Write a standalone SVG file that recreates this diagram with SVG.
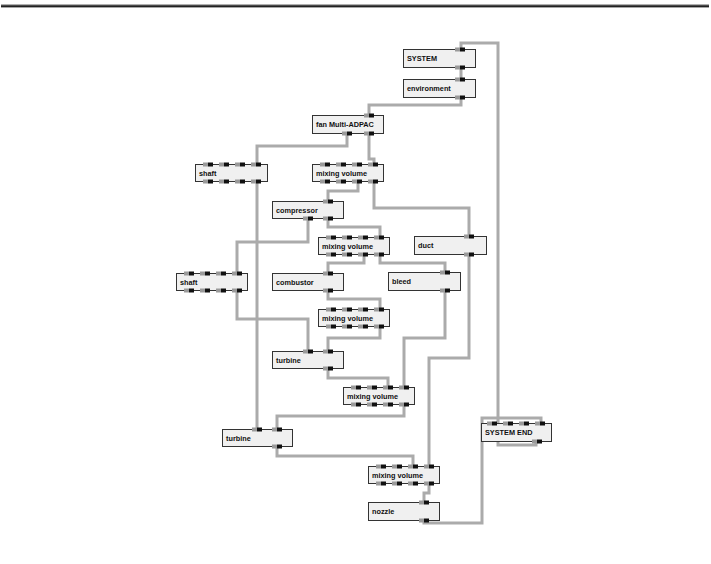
<svg xmlns="http://www.w3.org/2000/svg" xmlns:xlink="http://www.w3.org/1999/xlink" width="711" height="564" viewBox="0 0 711 564">
<style>
.box{fill:#f0f0f0;stroke:#333;stroke-width:1}
.lbl{font-family:"Liberation Sans",Arial,sans-serif;font-size:7.3px;font-weight:bold;fill:#111}
.c{fill:none;stroke:#ababab;stroke-width:3}
</style>
<defs>
<g id="p"><rect x="-5" y="-2" width="5" height="4" fill="#9a9a9a"/><rect x="0" y="-2" width="5" height="4" fill="#111"/></g>
</defs>
<rect width="711" height="564" fill="#fff"/>
<rect x="1" y="4" width="708" height="1.2" fill="#b0b0b0"/>
<rect x="1" y="5.2" width="708" height="2.2" fill="#222"/>
<g id="connectors">
<path class="c" d="M461,49 V43 H498 V445 H536 V441"/>
<path class="c" d="M461,67 V79"/>
<path class="c" d="M461,97 V105 H369 V115"/>
<path class="c" d="M347,133 V146 H257 V164"/>
<path class="c" d="M369,133 V159 H374 V164"/>
<path class="c" d="M257,181 V429"/>
<path class="c" d="M358,181 V191 H328 V201"/>
<path class="c" d="M374,181 V208 H469 V236"/>
<path class="c" d="M308,218 V242 H237 V273"/>
<path class="c" d="M328,218 V227 H380 V237"/>
<path class="c" d="M364,254 V263 H328 V273"/>
<path class="c" d="M380,254 V263 H445 V272"/>
<path class="c" d="M469,254 V358 H429 V466"/>
<path class="c" d="M328,290 V299 H380 V309"/>
<path class="c" d="M237,290 V319 H308 V351"/>
<path class="c" d="M380,326 V338 H328 V351"/>
<path class="c" d="M445,290 V338 H404 V387"/>
<path class="c" d="M328,368 V378 H388 V387"/>
<path class="c" d="M404,404 V416 H277 V429"/>
<path class="c" d="M277,446 V456 H413 V466"/>
<path class="c" d="M429,483 V493 H424 V502"/>
<path class="c" d="M424,520 V523 H482 V418 H541 V423"/>
</g>
<g id="n-system"><rect class="box" x="403.5" y="49.5" width="72" height="18"/><text class="lbl" x="407" y="61">SYSTEM</text><use xlink:href="#p" x="460" y="49.5"/><use xlink:href="#p" x="460" y="67.5"/></g>
<g id="n-environment"><rect class="box" x="403.5" y="79.5" width="72" height="18"/><text class="lbl" x="407" y="91">environment</text><use xlink:href="#p" x="460" y="79.5"/><use xlink:href="#p" x="460" y="97.5"/></g>
<g id="n-fan"><rect class="box" x="312.5" y="115.5" width="71" height="18"/><text class="lbl" x="316" y="127">fan Multi-ADPAC</text><use xlink:href="#p" x="369" y="115.5"/><use xlink:href="#p" x="347" y="133.5"/><use xlink:href="#p" x="369" y="133.5"/></g>
<g id="n-shaft1"><rect class="box" x="195.5" y="164.5" width="72" height="17"/><text class="lbl" x="199" y="176">shaft</text><use xlink:href="#p" x="208" y="164.5"/><use xlink:href="#p" x="224" y="164.5"/><use xlink:href="#p" x="240" y="164.5"/><use xlink:href="#p" x="256" y="164.5"/><use xlink:href="#p" x="208" y="181.5"/><use xlink:href="#p" x="224" y="181.5"/><use xlink:href="#p" x="240" y="181.5"/><use xlink:href="#p" x="256" y="181.5"/></g>
<g id="n-mv1"><rect class="box" x="312.5" y="164.5" width="71" height="17"/><text class="lbl" x="316" y="176">mixing volume</text><use xlink:href="#p" x="325" y="164.5"/><use xlink:href="#p" x="341" y="164.5"/><use xlink:href="#p" x="357" y="164.5"/><use xlink:href="#p" x="373" y="164.5"/><use xlink:href="#p" x="325" y="181.5"/><use xlink:href="#p" x="341" y="181.5"/><use xlink:href="#p" x="357" y="181.5"/><use xlink:href="#p" x="373" y="181.5"/></g>
<g id="n-compressor"><rect class="box" x="272.5" y="201.5" width="71" height="17"/><text class="lbl" x="276" y="213">compressor</text><use xlink:href="#p" x="328" y="201.5"/><use xlink:href="#p" x="308" y="218.5"/><use xlink:href="#p" x="328" y="218.5"/></g>
<g id="n-mv2"><rect class="box" x="318.5" y="237.5" width="71" height="17"/><text class="lbl" x="322" y="249">mixing volume</text><use xlink:href="#p" x="331" y="237.5"/><use xlink:href="#p" x="347" y="237.5"/><use xlink:href="#p" x="363" y="237.5"/><use xlink:href="#p" x="379" y="237.5"/><use xlink:href="#p" x="331" y="254.5"/><use xlink:href="#p" x="347" y="254.5"/><use xlink:href="#p" x="363" y="254.5"/><use xlink:href="#p" x="379" y="254.5"/></g>
<g id="n-duct"><rect class="box" x="414.5" y="236.5" width="72" height="18"/><text class="lbl" x="418" y="248">duct</text><use xlink:href="#p" x="469" y="236.5"/><use xlink:href="#p" x="469" y="254.5"/></g>
<g id="n-shaft2"><rect class="box" x="176.5" y="273.5" width="71" height="17"/><text class="lbl" x="180" y="285">shaft</text><use xlink:href="#p" x="189" y="273.5"/><use xlink:href="#p" x="205" y="273.5"/><use xlink:href="#p" x="221" y="273.5"/><use xlink:href="#p" x="237" y="273.5"/><use xlink:href="#p" x="189" y="290.5"/><use xlink:href="#p" x="205" y="290.5"/><use xlink:href="#p" x="221" y="290.5"/><use xlink:href="#p" x="237" y="290.5"/></g>
<g id="n-combustor"><rect class="box" x="272.5" y="273.5" width="71" height="17"/><text class="lbl" x="276" y="285">combustor</text><use xlink:href="#p" x="328" y="273.5"/><use xlink:href="#p" x="328" y="290.5"/></g>
<g id="n-bleed"><rect class="box" x="388.5" y="272.5" width="72" height="18"/><text class="lbl" x="392" y="284">bleed</text><use xlink:href="#p" x="445" y="272.5"/><use xlink:href="#p" x="445" y="290.5"/></g>
<g id="n-mv3"><rect class="box" x="318.5" y="309.5" width="71" height="17"/><text class="lbl" x="322" y="321">mixing volume</text><use xlink:href="#p" x="331" y="309.5"/><use xlink:href="#p" x="347" y="309.5"/><use xlink:href="#p" x="363" y="309.5"/><use xlink:href="#p" x="379" y="309.5"/><use xlink:href="#p" x="331" y="326.5"/><use xlink:href="#p" x="347" y="326.5"/><use xlink:href="#p" x="363" y="326.5"/><use xlink:href="#p" x="379" y="326.5"/></g>
<g id="n-turbine1"><rect class="box" x="272.5" y="351.5" width="71" height="17"/><text class="lbl" x="276" y="363">turbine</text><use xlink:href="#p" x="308" y="351.5"/><use xlink:href="#p" x="328" y="351.5"/><use xlink:href="#p" x="328" y="368.5"/></g>
<g id="n-mv4"><rect class="box" x="343.5" y="387.5" width="71" height="17"/><text class="lbl" x="347" y="399">mixing volume</text><use xlink:href="#p" x="356" y="387.5"/><use xlink:href="#p" x="372" y="387.5"/><use xlink:href="#p" x="388" y="387.5"/><use xlink:href="#p" x="404" y="387.5"/><use xlink:href="#p" x="356" y="404.5"/><use xlink:href="#p" x="372" y="404.5"/><use xlink:href="#p" x="388" y="404.5"/><use xlink:href="#p" x="404" y="404.5"/></g>
<g id="n-turbine2"><rect class="box" x="222.5" y="429.5" width="70" height="17"/><text class="lbl" x="226" y="441">turbine</text><use xlink:href="#p" x="257" y="429.5"/><use xlink:href="#p" x="277" y="429.5"/><use xlink:href="#p" x="277" y="446.5"/></g>
<g id="n-mv5"><rect class="box" x="368.5" y="466.5" width="71" height="17"/><text class="lbl" x="372" y="478">mixing volume</text><use xlink:href="#p" x="381" y="466.5"/><use xlink:href="#p" x="397" y="466.5"/><use xlink:href="#p" x="413" y="466.5"/><use xlink:href="#p" x="429" y="466.5"/><use xlink:href="#p" x="381" y="483.5"/><use xlink:href="#p" x="397" y="483.5"/><use xlink:href="#p" x="413" y="483.5"/><use xlink:href="#p" x="429" y="483.5"/></g>
<g id="n-nozzle"><rect class="box" x="368.5" y="502.5" width="71" height="18"/><text class="lbl" x="372" y="514">nozzle</text><use xlink:href="#p" x="424" y="502.5"/><use xlink:href="#p" x="424" y="520.5"/></g>
<g id="n-systemend"><rect class="box" x="481.5" y="423.5" width="70" height="18"/><text class="lbl" x="485" y="435">SYSTEM END</text><use xlink:href="#p" x="492" y="423.5"/><use xlink:href="#p" x="508" y="423.5"/><use xlink:href="#p" x="524" y="423.5"/><use xlink:href="#p" x="540" y="423.5"/><use xlink:href="#p" x="537" y="441.5"/></g>
</svg>
